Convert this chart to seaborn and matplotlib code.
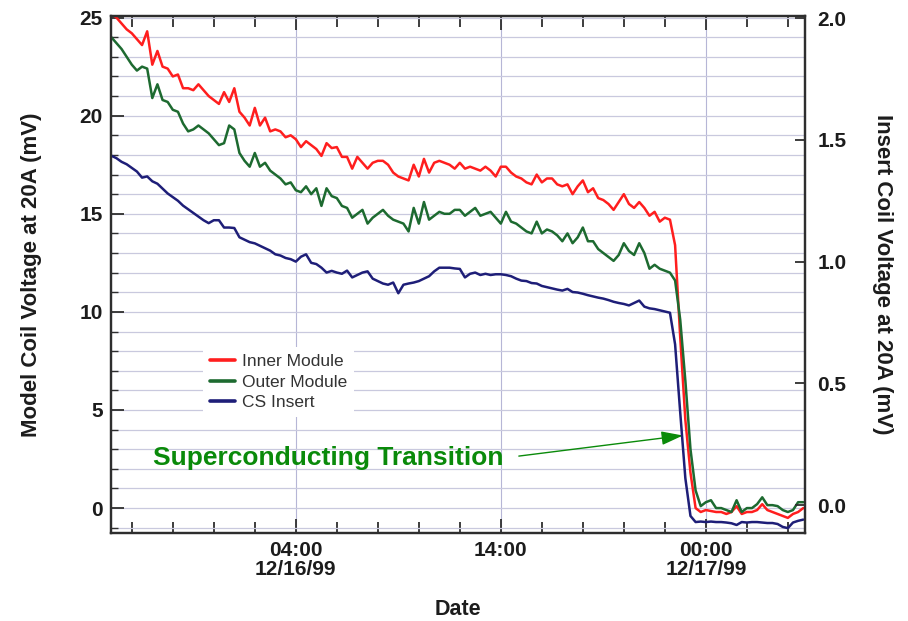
import numpy as np
import pandas as pd
import matplotlib
matplotlib.use("Agg")
import matplotlib.pyplot as plt
import matplotlib.dates as mdates
from matplotlib.ticker import MultipleLocator, FormatStrFormatter
from matplotlib.lines import Line2D
import seaborn as sns

# Coil voltages at 20 A, logged every 15 minutes from 19:00 on 12/15/99
start_time = "1999-12-15 19:00"
sample_step = "15min"

inner_module = [
    25.2, 25.0, 24.7, 24.4, 24.2, 23.9, 23.6, 24.3, 22.6, 23.3,
    22.5, 22.4, 22.0, 22.1, 21.4, 21.4, 21.3, 21.6, 21.3, 21.0,
    20.8, 20.6, 21.2, 20.7, 21.4, 20.2, 19.9, 19.5, 20.4, 19.5,
    19.9, 19.2, 19.3, 19.2, 18.9, 19.0, 18.8, 18.4, 18.7, 18.5,
    18.3, 17.95, 18.6, 18.35, 18.4, 17.9, 17.9, 17.3, 17.9, 17.6,
    17.3, 17.6, 17.7, 17.7, 17.5, 17.1, 16.9, 16.8, 16.7, 17.5,
    16.9, 17.8, 17.1, 17.6, 17.7, 17.6, 17.5, 17.3, 17.6, 17.3,
    17.4, 17.3, 17.2, 17.4, 17.2, 16.9, 17.4, 17.4, 17.1, 16.9,
    16.8, 16.6, 16.5, 17.0, 16.6, 16.8, 16.8, 16.5, 16.4, 16.5,
    16.0, 16.4, 16.7, 16.1, 16.3, 15.8, 15.7, 15.5, 15.2, 15.6,
    16.0, 15.5, 15.3, 15.6, 15.3, 14.9, 15.1, 14.6, 14.8, 14.7,
    13.4, 8.7, 4.5, 1.8, 0.0, -0.2, -0.1, -0.15, -0.2, -0.2,
    -0.3, -0.2, 0.1, -0.3, -0.2, -0.2, -0.1, 0.2, -0.1, -0.2,
    -0.3, -0.4, -0.5, -0.3, -0.2, 0.0,
]

outer_module = [
    24.0, 23.7, 23.4, 23.0, 22.6, 22.3, 22.5, 22.4, 20.9, 21.6,
    20.8, 20.7, 20.3, 20.2, 19.6, 19.2, 19.3, 19.5, 19.3, 19.1,
    18.8, 18.5, 18.6, 19.5, 19.3, 18.1, 17.7, 17.4, 18.1, 17.4,
    17.6, 17.2, 17.0, 16.8, 16.5, 16.6, 16.2, 16.1, 16.4, 16.0,
    16.3, 15.4, 16.3, 15.9, 15.8, 15.4, 15.3, 14.8, 15.0, 15.2,
    14.5, 14.8, 15.0, 15.2, 14.9, 14.7, 14.6, 14.5, 14.1, 15.3,
    14.5, 15.6, 14.7, 14.9, 15.1, 15.0, 15.0, 15.2, 15.2, 14.9,
    15.1, 15.3, 14.9, 15.0, 15.1, 14.8, 14.5, 15.1, 14.6, 14.5,
    14.3, 14.1, 14.0, 14.6, 14.0, 14.2, 14.1, 13.9, 13.6, 14.0,
    13.5, 13.8, 14.3, 13.6, 13.6, 13.2, 13.0, 12.8, 12.6, 12.9,
    13.5, 13.1, 12.9, 13.5, 13.0, 12.2, 12.4, 12.2, 12.1, 12.0,
    11.6, 9.6, 6.5, 3.0, 0.9, 0.1, 0.3, 0.4, 0.0, 0.0,
    -0.1, -0.2, 0.4, -0.2, 0.0, 0.0, 0.2, 0.55, 0.15, 0.15,
    0.1, -0.1, -0.2, -0.1, 0.3, 0.3,
]

cs_insert = [
    1.435, 1.425, 1.41, 1.40, 1.385, 1.37, 1.345, 1.35, 1.33, 1.32,
    1.30, 1.28, 1.265, 1.25, 1.23, 1.215, 1.20, 1.185, 1.17, 1.158,
    1.17, 1.17, 1.14, 1.14, 1.138, 1.10, 1.09, 1.08, 1.075, 1.065,
    1.055, 1.045, 1.03, 1.025, 1.015, 1.01, 1.0, 1.02, 1.03, 0.995,
    0.99, 0.975, 0.955, 0.962, 0.955, 0.95, 0.963, 0.935, 0.945, 0.955,
    0.96, 0.93, 0.92, 0.91, 0.905, 0.914, 0.87, 0.905, 0.91, 0.914,
    0.92, 0.93, 0.94, 0.96, 0.975, 0.975, 0.975, 0.972, 0.97, 0.935,
    0.95, 0.955, 0.945, 0.95, 0.945, 0.948, 0.948, 0.945, 0.94, 0.93,
    0.922, 0.92, 0.912, 0.91, 0.90, 0.895, 0.89, 0.885, 0.881, 0.888,
    0.875, 0.873, 0.868, 0.862, 0.857, 0.852, 0.848, 0.842, 0.835, 0.83,
    0.826, 0.82, 0.83, 0.84, 0.815, 0.808, 0.805, 0.80, 0.795, 0.79,
    0.66, 0.38, 0.11, -0.045, -0.07, -0.068, -0.07, -0.068, -0.07, -0.07,
    -0.072, -0.075, -0.082, -0.07, -0.072, -0.07, -0.07, -0.072, -0.074, -0.074,
    -0.078, -0.09, -0.095, -0.072, -0.065, -0.06,
]

series_names = ["Inner Module", "Outer Module", "CS Insert"]
series_colors = ["#ff1e1e", "#1d6a30", "#1e1e78"]

date_ticks = ["1999-12-16 04:00", "1999-12-16 14:00", "1999-12-17 00:00"]
date_tick_labels = ["04:00\n12/16/99", "14:00", "00:00\n12/17/99"]
left_ticks = [0, 5, 10, 15, 20, 25]
right_ticks = [0.0, 0.5, 1.0, 1.5, 2.0]

transition_label = "Superconducting Transition"
transition_tip = ("1999-12-16 22:53", 3.7)
transition_text_at = ("1999-12-15 21:01", 2.55)

# ---- tidy tables for seaborn ----
times = pd.date_range(start_time, periods=len(inner_module), freq=sample_step)
n = len(times)
modules = pd.DataFrame({
    "time": np.concatenate([times, times]),
    "voltage": inner_module + outer_module,
    "series": [series_names[0]] * n + [series_names[1]] * n,
})
insert = pd.DataFrame({"time": times, "voltage": cs_insert})

sns.set_theme(style="white")
plt.rcParams["font.family"] = ["Liberation Sans", "DejaVu Sans"]
plt.rcParams["font.weight"] = "bold"
plt.rcParams["axes.labelweight"] = "bold"

ink = "#1c1c1c"
spine_col = "#2e2e2e"
grid_col = "#c9c9de"
green_txt = "#0a8a0a"

fig = plt.figure(figsize=(9.08, 6.21), dpi=100)
ax = fig.add_axes([0.1222, 0.1417, 0.7643, 0.8325])
ax2 = ax.twinx()

sns.lineplot(data=modules, x="time", y="voltage", hue="series",
             hue_order=series_names[:2], palette=series_colors[:2],
             linewidth=1.8, legend=False, ax=ax)
sns.lineplot(data=insert, x="time", y="voltage", color=series_colors[2],
             linewidth=1.8, legend=False, ax=ax2)

# ---- axes ranges ----
ax.set_xlim(mdates.date2num(pd.Timestamp("1999-12-15 18:59")),
            mdates.date2num(pd.Timestamp("1999-12-17 04:50")))
ax.set_ylim(-1.27, 25.08)
ax2.set_ylim(-0.115, 2.009)

# ---- ticks ----
ax.set_xticks([mdates.date2num(pd.Timestamp(t)) for t in date_ticks], date_tick_labels)
ax.xaxis.set_minor_locator(mdates.HourLocator(byhour=range(0, 24, 2)))
ax.set_yticks(left_ticks)
ax.yaxis.set_minor_locator(MultipleLocator(1))
ax2.set_yticks(right_ticks)
ax2.yaxis.set_major_formatter(FormatStrFormatter("%.1f"))

ax.tick_params(axis="x", which="both", direction="in", top=True, bottom=True,
               color=spine_col, width=1.3, labelsize=15, labelcolor=ink, pad=6)
ax.tick_params(axis="x", which="major", length=10)
ax.tick_params(axis="x", which="minor", length=8)
ax.tick_params(axis="y", which="both", direction="in", left=True, right=False,
               color=spine_col, labelcolor=ink)
ax.tick_params(axis="y", which="major", length=9, width=1.3, labelsize=15, pad=6)
ax.tick_params(axis="y", which="minor", length=5, width=1.0)
ax2.tick_params(axis="y", which="major", direction="in", right=True, length=7,
                width=1.3, color=spine_col, labelsize=15, labelcolor=ink, pad=9)
for lbl in ax.get_xticklabels():
    lbl.set_linespacing(1.0)

# ---- grid ----
ax.grid(True, which="both", axis="y", color=grid_col, linewidth=0.9)
ax.grid(True, which="major", axis="x", color="#b6b6d6", linewidth=0.8)

for a in (ax, ax2):
    for s in a.spines.values():
        s.set_color(spine_col)
        s.set_linewidth(1.6)
        s.set_visible(True)

# ---- labels ----
ax.set_xlabel("Date", fontsize=15.5, color=ink)
ax.xaxis.set_label_coords(0.5, -0.128)
ax.set_ylabel("Model Coil Voltage at 20A (mV)", fontsize=16, color=ink)
ax.yaxis.set_label_coords(-0.099, 0.5)
ax2.set_ylabel("Insert Coil Voltage at 20A (mV)", fontsize=16, color=ink,
               rotation=270, va="bottom")
ax2.yaxis.set_label_coords(1.0965, 0.5)

# ---- legend ----
handles = [Line2D([], [], color=c, linewidth=2.6) for c in series_colors]
leg = ax.legend(handles, series_names, loc="upper left",
                bbox_to_anchor=(0.2236, 0.441), bbox_transform=fig.transFigure,
                prop={"size": 12.5, "weight": "normal"}, frameon=True,
                facecolor="white", edgecolor="none", framealpha=1.0,
                borderpad=0.4, borderaxespad=0.0, handlelength=1.45,
                handletextpad=0.4, labelspacing=0.3, fancybox=False)
for t in leg.get_texts():
    t.set_color("#333333")

# ---- transition annotation ----
ax.annotate(transition_label,
            xy=(mdates.date2num(pd.Timestamp(transition_tip[0])), transition_tip[1]),
            xytext=(mdates.date2num(pd.Timestamp(transition_text_at[0])), transition_text_at[1]),
            textcoords="data", ha="left", va="center",
            fontsize=19, fontweight="bold", color=green_txt,
            arrowprops=dict(arrowstyle="-|>,head_length=1.1,head_width=0.35",
                            color=green_txt, lw=1.0, mutation_scale=12,
                            shrinkA=9, shrinkB=0, relpos=(1.0, 0.5)))

fig.savefig("out.png", dpi=100)
